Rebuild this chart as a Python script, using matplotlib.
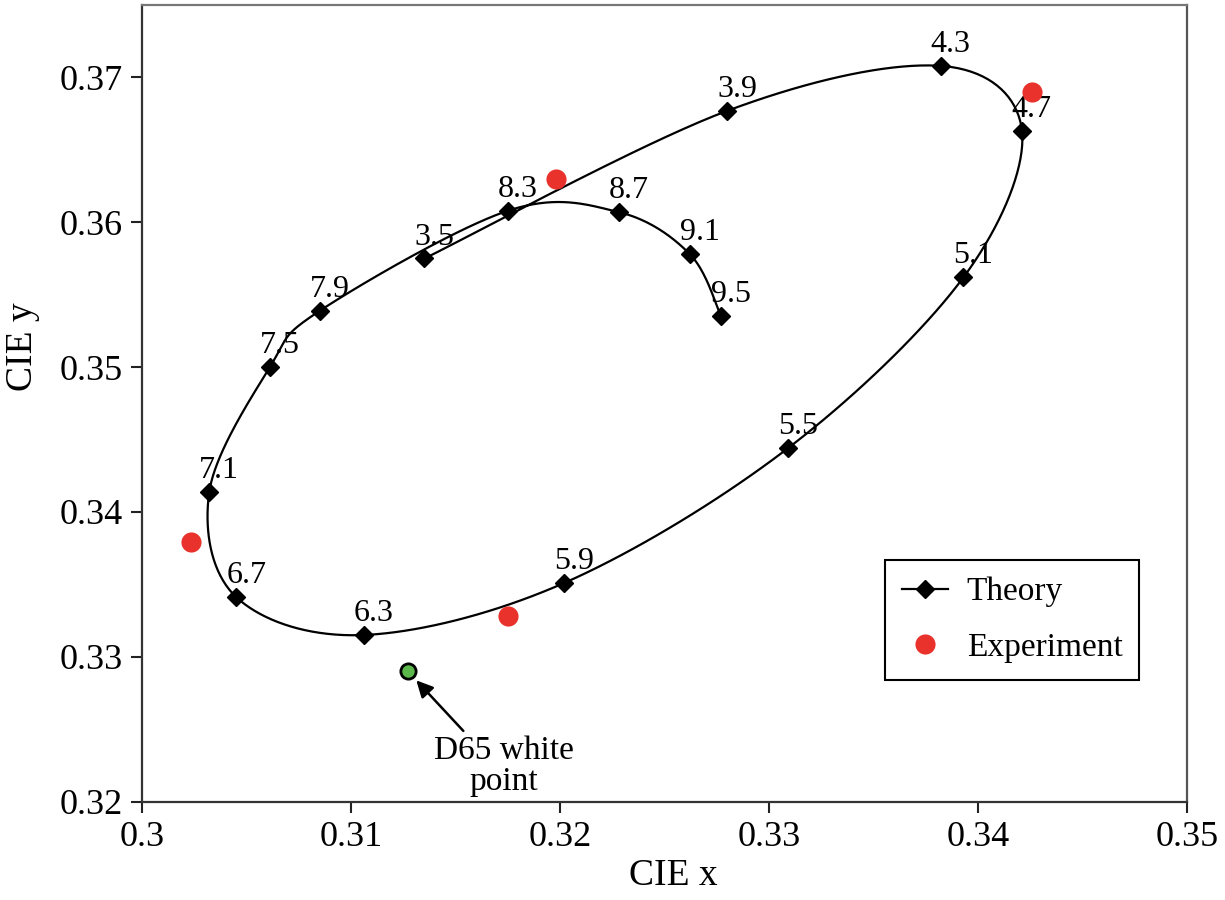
import numpy as np
import matplotlib
matplotlib.use("Agg")
import matplotlib.pyplot as plt
from matplotlib.lines import Line2D
from matplotlib.ticker import FuncFormatter

plt.rcParams['font.family'] = ['Liberation Serif', 'DejaVu Serif']

# Theory curve (labelled points, in drawing order)
theory_labels = ["3.5", "3.9", "4.3", "4.7", "5.1", "5.5", "5.9", "6.3",
                 "6.7", "7.1", "7.5", "7.9", "8.3", "8.7", "9.1", "9.5"]
theory_x = [0.3135, 0.3280, 0.3382, 0.3421, 0.3393, 0.3309, 0.3202, 0.3106,
            0.3045, 0.3032, 0.3061, 0.3085, 0.3175, 0.3228, 0.3262, 0.3277]
theory_y = [0.3575, 0.3677, 0.3708, 0.3663, 0.3562, 0.3444, 0.3351, 0.3315,
            0.3341, 0.3414, 0.3500, 0.3539, 0.3608, 0.3607, 0.3578, 0.3535]

# Experiment
exp_x = [0.3023, 0.3175, 0.3198, 0.3426]
exp_y = [0.3379, 0.3328, 0.3630, 0.3690]

# D65 white point
d65_x, d65_y = 0.3127, 0.3290


def smooth_curve(x, y, n=40):
    # Excel-style smoothed line (Catmull-Rom through the points)
    p = np.column_stack([x, y])
    p = np.vstack([p[0], p, p[-1]])
    t = np.linspace(0, 1, n)[:, None]
    out = []
    for i in range(1, len(p) - 2):
        p0, p1, p2, p3 = p[i - 1], p[i], p[i + 1], p[i + 2]
        c1 = p1 + (p2 - p0) / 6
        c2 = p2 - (p3 - p1) / 6
        seg = ((1 - t) ** 3) * p1 + 3 * ((1 - t) ** 2) * t * c1 \
            + 3 * (1 - t) * t ** 2 * c2 + t ** 3 * p2
        out.append(seg)
    out = np.vstack(out)
    return out[:, 0], out[:, 1]


fig = plt.figure(figsize=(12.25, 9), dpi=100)
ax = fig.add_axes([0.1163, 0.1094, 0.9690 - 0.1163, 0.9944 - 0.1094])

cx, cy = smooth_curve(theory_x, theory_y)
ax.plot(cx, cy, color='black', lw=1.6, zorder=2)
ax.plot(theory_x, theory_y, ls='none', marker='D', ms=9, color='black', zorder=3)

for lab, x, y in zip(theory_labels, theory_x, theory_y):
    ax.annotate(lab, (x, y), xytext=(7, 5), textcoords='offset points',
                ha='center', va='bottom', fontsize=23)

ax.plot(exp_x, exp_y, ls='none', marker='o', ms=14.5, color='#e8322b',
        mec='none', zorder=4)

ax.plot([d65_x], [d65_y], ls='none', marker='o', ms=11, mfc='#5cb84a',
        mec='black', mew=2, zorder=4)
ax.annotate("", xy=(d65_x, d65_y), xytext=(40, -43), textcoords='offset points',
            arrowprops=dict(arrowstyle='-|>', color='black', lw=1.8,
                            mutation_scale=25, shrinkA=0, shrinkB=9))
ax.annotate("D65 white\npoint", (d65_x, d65_y), xytext=(69, -46),
            textcoords='offset points', ha='center', va='top', fontsize=24,
            multialignment='center', linespacing=1.05)

ax.set_xlim(0.3, 0.35)
ax.set_ylim(0.32, 0.375)
ax.set_xticks(np.arange(0.30, 0.351, 0.01))
ax.set_yticks(np.arange(0.32, 0.371, 0.01))
ax.xaxis.set_major_formatter(FuncFormatter(lambda v, p: f"{round(v, 2):g}"))
ax.yaxis.set_major_formatter(FuncFormatter(lambda v, p: f"{round(v, 2):g}"))
ax.tick_params(axis='both', direction='out', length=8, width=1.5,
               labelsize=26, color='#222222', pad=6)
for s in ax.spines.values():
    s.set_linewidth(1.6)
    s.set_color('#333333')
ax.spines['top'].set_color('#777777')
ax.spines['right'].set_color('#555555')

ax.set_xlabel("CIE x", fontsize=27)
ax.set_ylabel("CIE y", fontsize=27)
ax.xaxis.set_label_coords(0.508, -0.072)
ax.yaxis.set_label_coords(-0.098, 0.571)

handles = [Line2D([], [], color='black', lw=1.6, marker='D', ms=9),
           Line2D([], [], ls='none', marker='o', ms=14.5, color='#e8322b', mec='none')]
leg = ax.legend(handles, ["Theory", "Experiment"], loc='upper left',
                bbox_to_anchor=(0.711, 0.303), fontsize=24, frameon=True,
                fancybox=False, edgecolor='black', framealpha=1,
                handlelength=1.4, handletextpad=0.55, borderpad=0.5,
                labelspacing=0.75, borderaxespad=0)
leg.get_frame().set_linewidth(1.5)

fig.savefig("out.png", dpi=100)
